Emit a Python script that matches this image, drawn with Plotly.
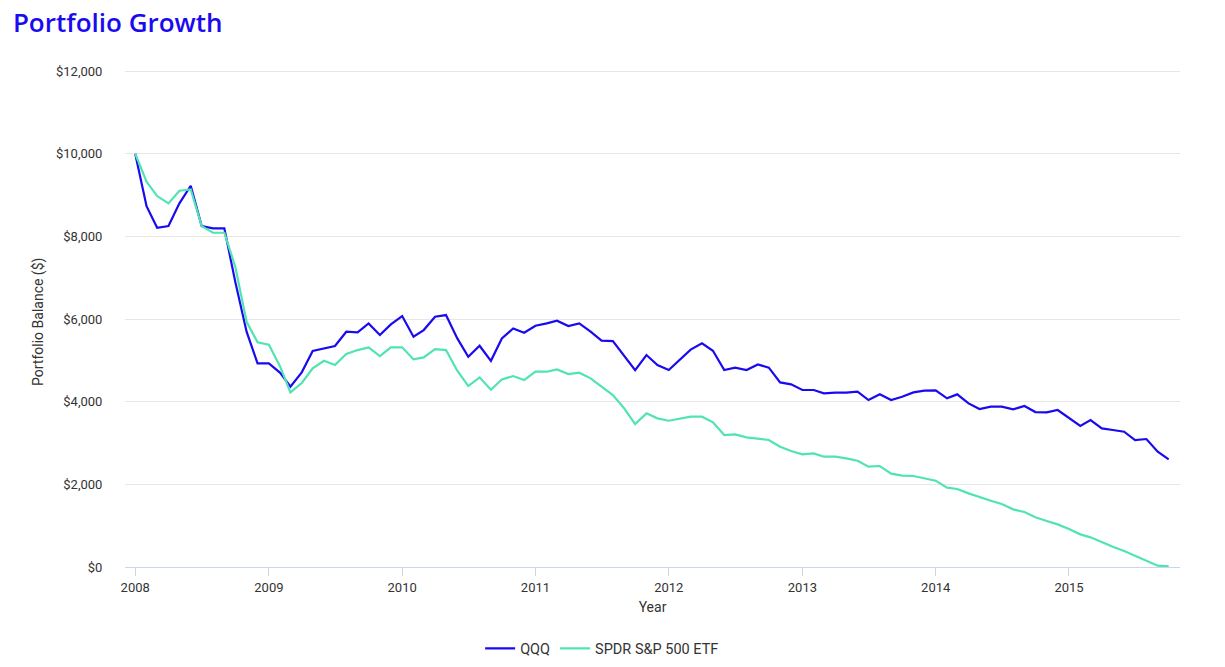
import plotly.graph_objects as go
import pandas as pd

months = pd.date_range("2008-01-01", periods=94, freq="MS").strftime("%Y-%m-%d").tolist()

qqq = [10000, 8730, 8210, 8250, 8800, 9226, 8250, 8195, 8195, 6900, 5694, 4928,
       4928, 4700, 4363, 4710, 5226, 5290, 5347, 5694, 5677, 5895, 5613, 5871,
       6073, 5573, 5734, 6057, 6097, 5532, 5089, 5355, 4990, 5532, 5774, 5669,
       5839, 5895, 5960, 5831, 5895, 5694, 5476, 5468, 5105, 4766, 5129, 4887,
       4766, 5030, 5260, 5411, 5234, 4766, 4823, 4766, 4903, 4823, 4468, 4420,
       4283, 4283, 4202, 4218, 4218, 4242, 4041, 4180, 4041, 4121, 4226, 4266,
       4274, 4081, 4178, 3960, 3823, 3879, 3879, 3815, 3895, 3750, 3742, 3799,
       3597, 3412, 3557, 3355, 3315, 3274, 3073, 3097, 2790, 2605]

spdr = [10000, 9323, 8977, 8800, 9105, 9137, 8250, 8089, 8089, 7266, 5935, 5436,
        5379, 4847, 4226, 4452, 4807, 4992, 4887, 5154, 5250, 5315, 5105, 5315,
        5315, 5024, 5073, 5274, 5250, 4750, 4379, 4589, 4290, 4540, 4621, 4524,
        4726, 4726, 4783, 4670, 4702, 4565, 4363, 4162, 3839, 3460, 3718, 3597,
        3540, 3597, 3637, 3637, 3500, 3194, 3210, 3137, 3113, 3073, 2911, 2807,
        2726, 2750, 2669, 2669, 2629, 2573, 2427, 2444, 2258, 2210, 2202, 2145,
        2089, 1919, 1887, 1782, 1686, 1605, 1524, 1395, 1331, 1202, 1113, 1032,
        919, 790, 718, 597, 492, 387, 266, 153, 32, 15]

y_ticks = [0, 2000, 4000, 6000, 8000, 10000, 12000]
y_labels = ["$0", "$2,000", "$4,000", "$6,000", "$8,000", "$10,000", "$12,000"]
x_ticks = ["2008-01-01", "2009-01-01", "2010-01-01", "2011-01-01", "2012-01-01",
           "2013-01-01", "2014-01-01", "2015-01-01"]
x_labels = ["2008", "2009", "2010", "2011", "2012", "2013", "2014", "2015"]

fig = go.Figure()
fig.add_trace(go.Scatter(x=months, y=qqq, mode="lines", name="QQQ",
                         line=dict(color="#1a0af0", width=2.2)))
fig.add_trace(go.Scatter(x=months, y=spdr, mode="lines", name="SPDR S&P 500 ETF",
                         line=dict(color="#50e3b4", width=2.2)))

fig.update_layout(
    width=1225, height=667,
    paper_bgcolor="white", plot_bgcolor="white",
    margin=dict(l=117, r=53, t=59, b=108, autoexpand=False),
    font=dict(family="Roboto", size=13, color="#333333"),
    title=dict(text="Portfolio Growth", x=0.004, xanchor="left", y=0.978, yanchor="middle",
               font=dict(family="Open Sans", size=26, weight=600, color="#1a0af0")),
    showlegend=True,
    legend=dict(orientation="h", xref="container", x=0.485, xanchor="center",
                y=-0.163, yanchor="middle",
                font=dict(size=14.5, color="#333333"), tracegroupgap=20),
    xaxis=dict(
        range=["2007-12-04", "2015-11-01"], automargin=False,
        tickmode="array", tickvals=x_ticks, ticktext=x_labels,
        showgrid=False, showline=True, linecolor="#ccd6eb", linewidth=1,
        ticks="outside", ticklen=8, tickcolor="#ccd6eb",
        tickfont=dict(size=13, color="#333333"),
        title=dict(text="Year", font=dict(size=14, color="#333333"), standoff=8),
        zeroline=False,
    ),
    yaxis=dict(
        range=[0, 12100], automargin=False,
        tickmode="array", tickvals=y_ticks, ticktext=y_labels,
        showgrid=True, gridcolor="#e6e6e6", gridwidth=1,
        zeroline=False, showline=False,
        ticks="outside", ticklen=0, tickcolor="rgba(0,0,0,0)",
        ticklabelstandoff=19, tickfont=dict(size=13, color="#333333"),
    ),
    annotations=[dict(text="Portfolio Balance ($)", xref="paper", yref="paper",
                      x=-0.0825, y=0.49, xanchor="center", yanchor="middle",
                      textangle=-90, showarrow=False,
                      font=dict(size=14, color="#333333"))],
)

fig.write_html("out.html")
